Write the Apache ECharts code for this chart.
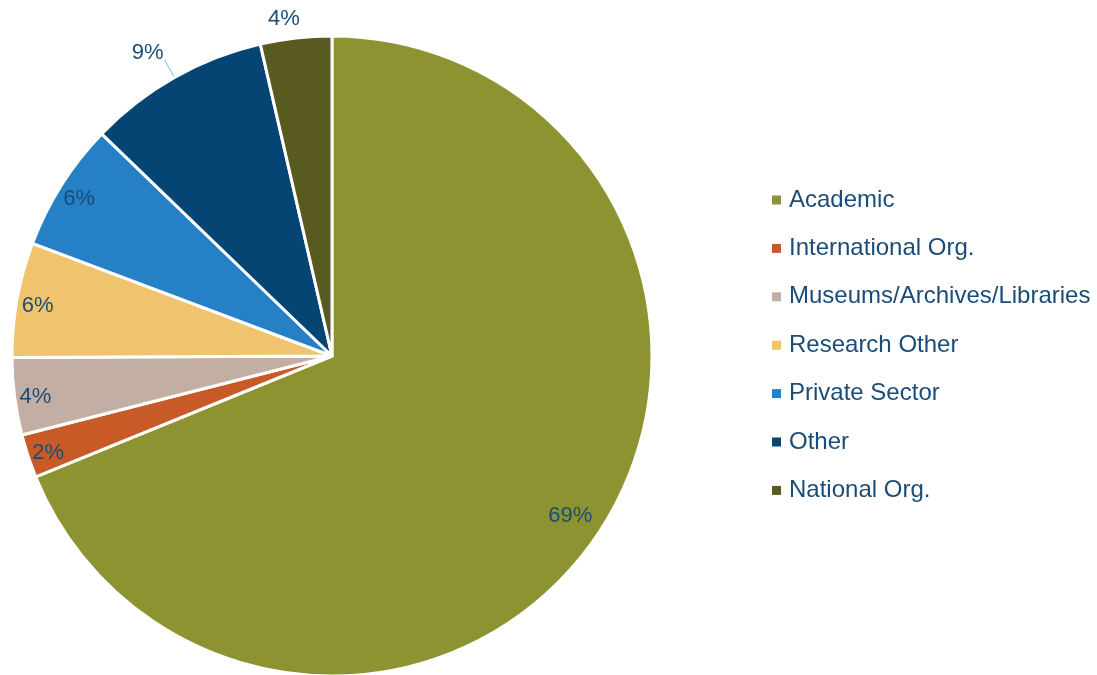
<!DOCTYPE html>
<html><head><meta charset="utf-8">
<script src="https://cdn.jsdelivr.net/npm/echarts@6/dist/echarts.min.js"></script>
<style>html,body{margin:0;padding:0;background:#fff}#c{width:1097px;height:675px}</style>
</head><body><div id="c"></div>
<script>
const categories = ['Academic','International Org.','Museums/Archives/Libraries','Research Other','Private Sector','Other','National Org.'];
const values = [68.9, 2.2, 3.9, 5.8, 6.5, 9.2, 3.6];
const colors = ['#8D9330','#C85A27','#C3AEA3','#F0C36F','#2580C6','#044574','#595A1F'];
const outsideLabels = ['Other','National Org.'];
const bigLabels = ['Academic'];

const txt = '#1B4C78';
const font = '"Liberation Sans", Arial, sans-serif';
const fmt = p => Math.round(p.percent) + '%';

const mainData = categories.map((n,i)=>{
  const d = {name:n, value:values[i], itemStyle:{color:colors[i]}, label:{show:false}, labelLine:{show:false}};
  if (n==='Other') {
    d.label = {show:true, distanceToLabelLine:1, lineHeight:22,
      formatter: p => Math.round(p.percent) + '%\n{s| }',
      rich:{s:{lineHeight:14, fontSize:10}}};
    d.labelLine = {show:true, length:20, length2:0};
  } else if (n==='National Org.') {
    d.label = {show:true, distanceToLabelLine:-6};
    d.labelLine = {show:false, length:19.5, length2:0};
  }
  return d;
});
const overlayData = (showFn) => categories.map((n,i)=>({
  name:n, value:values[i], label:{show: showFn(n)}
}));

const overlay = (radius, data, shift) => ({
  type:'pie', center:[332,356], radius:[0,radius],
  startAngle:90, clockwise:true, avoidLabelOverlap:false,
  silent:true, legendHoverLink:false,
  itemStyle:{color:'rgba(0,0,0,0)', borderWidth:0},
  label:{position:'inside', color:txt, fontSize:22, fontFamily:font, lineHeight:22,
    formatter: p => (shift ? '{s| }\n' : '') + Math.round(p.percent) + '%',
    rich:{s:{lineHeight:shift || 1, fontSize:6}}},
  labelLine:{show:false},
  emphasis:{disabled:true},
  tooltip:{show:false},
  data:data, z:3
});

const chart = echarts.init(document.getElementById('c'));
chart.setOption({
  animation:false,
  color: colors,
  legend:{
    orient:'vertical', left:767, top:183,
    data:categories,
    itemWidth:9, itemHeight:9, itemGap:24.4,
    icon:'rect',
    itemStyle:{borderWidth:0},
    textStyle:{color:txt, fontSize:24, fontFamily:font, padding:[0,0,0,3]}
  },
  series:[
    {
      type:'pie', center:[332,356], radius:[0,320],
      startAngle:90, clockwise:true, avoidLabelOverlap:false,
      itemStyle:{borderColor:'#fff', borderWidth:3},
      label:{position:'outside', formatter:fmt, color:txt, fontSize:22, fontFamily:font},
      labelLine:{lineStyle:{color:'#8ECFF5', width:1.2}},
      emphasis:{disabled:true},
      data:mainData
    },
    overlay(592, overlayData(n => !outsideLabels.includes(n) && !bigLabels.includes(n)), 6),
    overlay(568, overlayData(n => bigLabels.includes(n)), 0)
  ]
});
</script></body></html>
